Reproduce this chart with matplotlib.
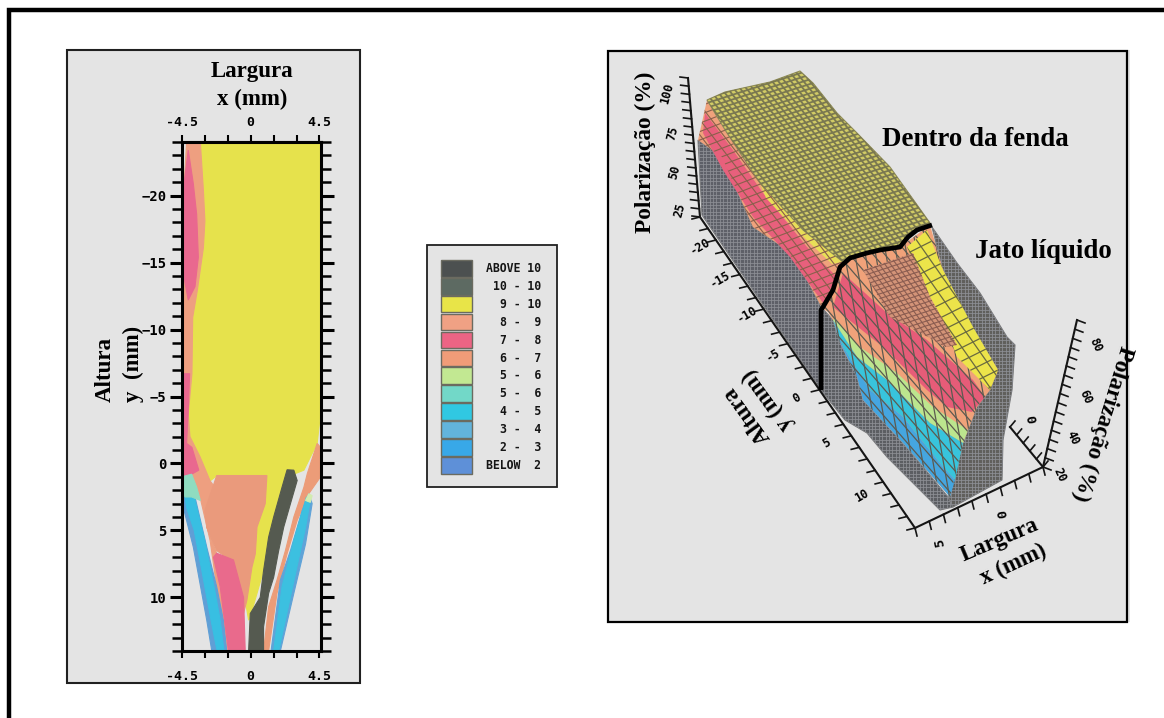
import numpy as np
import matplotlib
matplotlib.use('Agg')
import matplotlib.pyplot as plt
from matplotlib.patches import Polygon, Rectangle
from matplotlib.collections import LineCollection

W, H = 1164, 718
SERIF = 'Liberation Serif'
MONO = 'DejaVu Sans Mono'
GRAY = '#e4e4e4'

# ---- mapa de polarizacion (x mm, y mm) ----
amarillo = [(-3.3,-24),(4.6,-24),(4.6,-6),(4.57,-3.7),(4.35,-1.5),(3.48,0.5),(2.82,0.8),(1.72,3.8),(1.17,5.5),
            (0.84,8),(0.08,11),(-0.14,11.7),(-0.58,8.7),(-2.2,0.9),(-2.66,1.3),(-3.32,-0.5),(-3.98,-2),(-4.09,-3.7),
            (-3.85,-6.7),(-3.8,-10.9),(-3.5,-12.9),(-3.1,-16.1),(-3,-18.1),(-3.1,-20.4)]
salmon_izq = [(-4.2,-24),(-3.3,-24),(-3.1,-20.4),(-3,-18.1),(-3.1,-16.1),(-3.5,-12.9),(-3.8,-10.9),(-3.85,-6.7),
              (-4.09,-3.7),(-3.98,-2),(-3.32,-0.5),(-2.66,1.3),(-2.2,2),(-2.88,4.75),(-2.23,6.7),(-2.0,9.2),(-1.46,14),
              (-1.6,14),(-2.23,9.2),(-2.66,5.75),(-3.32,2.5),(-3.87,0.8),(-4.53,1),(-4.55,-17),(-4.35,-21)]
rosa_sup = [(-4.09,-23.4),(-3.76,-20.9),(-3.54,-18.6),(-3.43,-15.4),(-3.65,-13.2),(-4.09,-12.2),(-4.42,-14.2),
            (-4.53,-16.6),(-4.42,-20.4)]
rosa_med = [(-4.53,-6.7),(-4,-6.7),(-4.1,-3.7),(-4.2,-1.5),(-3.85,-1.2),(-3.4,0.5),(-3.87,0.8),(-4.53,1)]
rosa_inf = [(-2.23,6.7),(-1.13,7.2),(-0.47,10),(-0.36,14),(-1.46,14),(-2,9.2),(-2.44,7)]
salmon_cen = [(-2.23,0.9),(1.06,0.9),(0.95,3),(0.41,4.75),(0.3,6.74),(0.08,7.74),(-0.25,10.2),(-0.47,11.2),
              (-0.91,9.2),(-1.35,7.2),(-2.23,6.5),(-2.88,4.75),(-3,3.5),(-2.55,2)]
oscuro = [(2.38,0.47),(2.82,0.5),(3.04,1.27),(2.6,3),(2.16,4.75),(1.83,6.5),(1.5,8.5),(1.17,9.7),(0.84,12.2),
          (0.84,14),(-0.14,14),(-0.03,11.2),(0.62,10),(0.84,8),(1.17,5.5),(1.5,4),(2.05,1.77)]
salmon_der = [(4.57,-1.2),(4.57,1),(3.8,2.26),(3.04,4.25),(2.38,6.74),(1.72,9.7),(1.17,14),(0.84,14),(1.17,10.7),
              (1.72,8.7),(2.27,6.5),(2.82,4),(3.48,1.77),(3.7,0.77),(4.35,-1.5)]
azul_der = [(1.33,14),(1.94,14),(2.82,9.7),(3.59,6),(4.02,3),(3.8,2.26),(3.37,3.5),(2.6,6.5),(1.94,8.7)]
cian_der = [(1.5,14),(1.83,14),(3.59,4.75),(3.9,2.76),(3.65,2.5),(2.82,5.75),(2.05,9.2)]
verde_der = [(3.59,2.76),(3.8,2.26),(4.02,2.4),(3.9,2.9)]
azul_izq = [(-4.53,2),(-4.42,3.26),(-3.76,6.24),(-2.88,11.7),(-2.55,14),(-1.57,14),(-1.79,11.7),(-2.23,9.2),
            (-2.88,6.24),(-3.65,2.5)]
cian_izq = [(-4.3,2.5),(-3.7,2.5),(-3,5.8),(-2.4,9.2),(-2,11.7),(-1.75,14),(-2.2,14),(-2.6,11.7),(-3.2,8),(-3.7,5),(-4.2,3.3)]
verde_izq = [(-4.53,1),(-3.87,0.8),(-3.54,1.77),(-3.3,2.76),(-3.87,2.5),(-4.3,2.5),(-4.53,2)]

mapa = [(amarillo,'#e6e24c'),(salmon_izq,'#ee9f80'),(rosa_sup,'#e9688f'),(rosa_med,'#e9688f'),(azul_izq,'#5f9fd6'),
        (cian_izq,'#38bfe2'),(verde_izq,'#8fdcc0'),(salmon_cen,'#ea9a7c'),(rosa_inf,'#e96a8c'),(salmon_der,'#ec9c78'),
        (azul_der,'#5fa3d8'),(cian_der,'#3cc0e0'),(verde_der,'#d2ecb0'),(oscuro,'#555a50')]

xticks_mapa = [-4.5,-3,-1.5,0,1.5,3,4.5]
xlabels_mapa = ['-4.5','','','0','','','4.5']
yticks_mapa = [-20,-15,-10,-5,0,5,10]

# ---- leyenda ----
ley_colores = ['#4c5050','#5d6a62','#e8e448','#f0a184','#ec6484','#f09c78','#c2e892','#72d8c8','#30c8e2','#62b4dc','#38a8e8','#5e90d8']
ley_textos = ['ABOVE 10','10 - 10','9 - 10','8 -  9','7 -  8','6 -  7','5 -  6','5 -  6','4 -  5','3 -  4','2 -  3','BELOW  2']

# ---- superficie 3D, contornos en pixeles de la imagen ----
meseta = [(707,100),(725,92),(770,82),(800,71),(813,83),(837,113),(857,133),(890,167),(930,223),(910,232),(900,247),
          (880,250),(850,258),(843,262),(803,230),(760,183),(727,133)]
flanco = [(707,100),(727,133),(760,183),(803,230),(843,262),(833,290),(822,308),(807,280),(787,250),(753,227),(722,157),(698,140)]
flanco_rosa = [(705,113),(733,150),(763,193),(807,247),(837,277),(823,303),(790,257),(753,217),(723,170),(703,133)]
flanco_amar = [(760,183),(775,200),(803,230),(843,262),(832,264),(792,226),(766,198)]
pared_izq = [(698,140),(722,157),(753,227),(787,250),(807,280),(822,308),(821,390),(702,215)]
pared_inf = [(822,308),(833,320),(840,343),(857,377),(863,400),(903,443),(948,497),(953,507),(940,510),(887,457),(867,433),(845,420),(821,390)]
pared_der = [(932,227),(957,263),(980,293),(1007,337),(1015,345),(1012,390),(1003,440),(1002,480),(953,507),(948,497),(963,443),
             (977,407),(990,390),(998,370),(973,330),(943,270)]
chorro = [(843,262),(880,250),(900,247),(930,225),(943,270),(973,330),(998,370),(990,390),(977,407),(963,443),(950,497),
          (903,443),(863,400),(857,377),(840,343),(833,320),(828,312),(822,308),(833,290)]
b_e0 = [(833,320),(840,343),(857,377),(863,400),(903,443),(950,497)]
b_1 = [(843,347),(870,390),(903,417),(943,467),(955,480)]
b_2 = [(833,320),(857,357),(887,380),(930,423),(963,443)]
b_3 = [(835,318),(860,347),(897,373),(933,407),(968,430)]
b_4 = [(833,307),(883,347),(927,390),(947,407),(972,412)]
b_5 = [(843,273),(887,313),(927,340),(973,380),(985,397)]
parche = [(863,270),(913,253),(930,297),(957,345),(945,347),(930,338),(890,317)]
franja_amar = [(907,247),(927,230),(943,270),(973,327),(998,370),(990,390),(957,357),(943,320),(930,297)]

curva_x = [932,917,908,900,880,867,850,840,833,823,821,821]
curva_y = [225,230,237,247,250,253,258,267,290,307,310,390]

ticks_z_izq = [('100',667,93),('75',673,133),('50',675,172),('25',680,210)]
ticks_y = [('-20',700,247),('-15',720,280),('-10',747,315),('-5',773,355),('0',797,398),('5',827,443),('10',862,495)]
ticks_x = [('5',940,543),('0',1003,514)]
ticks_z_der = [('20',1060,475),('40',1073,438),('60',1085,397),('80',1095,345)]


def ejes_px(fig, x0, y0, x1, y1, **kw):
    # ejes ubicados con pixeles de la imagen (y hacia abajo)
    return fig.add_axes([x0/W, 1-y1/H, (x1-x0)/W, (y1-y0)/H], **kw)


def malla(ax, contorno, u, v, color, lw, z):
    # dos familias de lineas recortadas al contorno de la superficie
    pts = np.array(contorno, float)
    c = pts.mean(axis=0)
    u, v = np.array(u, float), np.array(v, float)
    n = int(np.ptp(pts, axis=0).max() / min(abs(u).max(), abs(v).max())) * 2 + 4
    seg = []
    for i in range(-n, n+1):
        seg.append([c+u*i-v*n, c+u*i+v*n])
        seg.append([c+v*i-u*n, c+v*i+u*n])
    lc = LineCollection(seg, colors=color, linewidths=lw, zorder=z)
    ax.add_collection(lc)
    lc.set_clip_path(Polygon(contorno, closed=True, transform=ax.transData))


def banda(a, b):
    return list(a) + list(b)[::-1]


fig = plt.figure(figsize=(W/100, H/100), dpi=100, facecolor='white')
fondo = ejes_px(fig, 0, 0, W, H)
fondo.set_xlim(0, W)
fondo.set_ylim(H, 0)
fondo.axis('off')

# marco general
fondo.plot([9,9,W],[H,10,10], color='black', lw=3.2, solid_joinstyle='miter', zorder=1)

# paneles
fondo.add_patch(Rectangle((67,50),293,633, fc=GRAY, ec='#202020', lw=1.5, zorder=1))
fondo.add_patch(Rectangle((427,245),130,242, fc=GRAY, ec='#202020', lw=1.3, zorder=1))
fondo.add_patch(Rectangle((608,50),522,572, fc=GRAY, ec='none', zorder=1))
fondo.add_patch(Rectangle((608,51),519,571, fc='none', ec='black', lw=1.6, zorder=1))

# leyenda
for i, (c, t) in enumerate(zip(ley_colores, ley_textos)):
    fondo.add_patch(Rectangle((441,260+i*17.9),31,16.6, fc=c, ec='#6b6b60', lw=1, zorder=2))
    fondo.text(541,268.5+i*17.9,t,family=MONO,weight='bold',fontsize=8.3,ha='right',va='center',color='#151515',zorder=3)

# textos del mapa
fondo.text(252,72,'Largura',family=SERIF,weight='bold',fontsize=16.5,ha='center',va='center')
fondo.text(252,99,'x (mm)',family=SERIF,weight='bold',fontsize=16.5,ha='center',va='center')
fondo.text(105,369,'Altura',family=SERIF,weight='bold',fontsize=16.5,ha='center',va='center',rotation=90)
fondo.text(133,364,'y  (mm)',family=SERIF,weight='bold',fontsize=16.5,ha='center',va='center',rotation=90)

# mapa de polarizacion
ax = ejes_px(fig, 182, 142, 321, 651, facecolor='none')
for pts, c in mapa:
    ax.add_patch(Polygon(pts, closed=True, fc=c, ec=c, lw=0.8))
ax.set_xlim(-4.5, 4.6)
ax.set_ylim(14, -24)
ax.set_xticks(xticks_mapa)
ax.set_xticklabels(xlabels_mapa)
ax.set_yticks(yticks_mapa)
ax.set_yticks(np.arange(-24, 15), minor=True)
ax.tick_params(axis='x', which='major', top=False, bottom=True, direction='out', length=5, width=1.5, pad=9, labelsize=9.5)
ax.tick_params(axis='y', which='major', left=True, right=True, direction='out', length=9, width=2.2, pad=2, labelsize=10)
ax.tick_params(axis='y', which='minor', left=True, right=True, direction='out', length=7.5, width=1.8)
sup = ax.secondary_xaxis('top')
sup.set_xticks(xticks_mapa)
sup.set_xticklabels(xlabels_mapa)
sup.tick_params(axis='x', direction='out', length=5, width=1.5, pad=4, labelsize=9.5)
for lab in ax.get_xticklabels() + ax.get_yticklabels() + sup.get_xticklabels():
    lab.set_family(MONO)
    lab.set_weight('bold')
for s in list(ax.spines.values()) + [sup.spines['top']]:
    s.set_linewidth(2.2)

# superficie: paredes
for pts, c in [(pared_izq,'#5e6068'),(pared_inf,'#5c5e62'),(pared_der,'#605f5c')]:
    fondo.add_patch(Polygon(pts, closed=True, fc=c, ec='#77787a', lw=0.8, zorder=3))
    malla(fondo, pts, (3.4,0), (0,3.4), '#8e9096', 0.55, 3.2)

# superficie: flanco y meseta
fondo.add_patch(Polygon(flanco, closed=True, fc='#efa27c', ec='none', zorder=4))
fondo.add_patch(Polygon(flanco_rosa, closed=True, fc='#e8607c', ec='none', zorder=4))
fondo.add_patch(Polygon(flanco_amar, closed=True, fc='#e8df58', ec='none', zorder=4))
malla(fondo, flanco, (9,-3.5), (5,6.5), '#8a5f4c', 0.8, 4.2)
fondo.add_patch(Polygon(meseta, closed=True, fc='#d2cc66', ec='#8f8c58', lw=0.8, zorder=5))
malla(fondo, meseta, (5,-1.6), (3,3.7), '#7a7850', 1.3, 5.2)

# superficie: chorro
fondo.add_patch(Polygon(chorro, closed=True, fc='#f0a27a', ec='none', zorder=6))
for a, b, c in [(b_4,b_5,'#e65c78'),(b_3,b_2,'#bce58e'),(b_2,b_1,'#38c4dc'),(b_1,b_e0,'#45a6e0')]:
    fondo.add_patch(Polygon(banda(a,b), closed=True, fc=c, ec='none', zorder=6))
malla(fondo, chorro, (13,15), (3,17), '#5c5a50', 0.9, 6.2)
fondo.add_patch(Polygon(franja_amar, closed=True, fc='#ece44a', ec='none', zorder=6.4))
malla(fondo, franja_amar, (11,-5.5), (7,10), '#6a6a40', 0.9, 6.5)
fondo.add_patch(Polygon(parche, closed=True, fc='#d49478', ec='none', zorder=6.4))
malla(fondo, parche, (4.6,-1.5), (2.8,3.8), '#8a5c50', 0.8, 6.5)

# ejes de la superficie
ejes = [((688,78),(700,217),17,(-8,-1)),((700,217),(915,528),27,(-8,2)),((915,528),(1043,467),9,(2,8)),
        ((1010,427),(1043,467),5,(5,-6)),((1043,467),(1077,320),16,(8,3))]
for p0, p1, n, d in ejes:
    fondo.plot([p0[0],p1[0]],[p0[1],p1[1]], color='#151515', lw=1.5, zorder=7)
    for f in np.linspace(0,1,n+1):
        px = p0[0]+(p1[0]-p0[0])*f
        py = p0[1]+(p1[1]-p0[1])*f
        fondo.plot([px,px+d[0]],[py,py+d[1]], color='#151515', lw=1.2, zorder=7)
for t, px, py in ticks_z_izq:
    fondo.text(px,py,t,family=MONO,weight='bold',fontsize=8.5,rotation=75,ha='center',va='center',zorder=8)
for t, px, py in ticks_y:
    fondo.text(px,py,t,family=MONO,weight='bold',fontsize=8.5,rotation=30,ha='center',va='center',zorder=8)
for t, px, py in ticks_x:
    fondo.text(px,py,t,family=MONO,weight='bold',fontsize=9.5,rotation=100,ha='center',va='center',zorder=8)
fondo.text(1033,419,'0',family=MONO,weight='bold',fontsize=9.5,rotation=100,ha='center',va='center',zorder=8)
for t, px, py in ticks_z_der:
    fondo.text(px,py,t,family=MONO,weight='bold',fontsize=8.5,rotation=-65,ha='center',va='center',zorder=8)

# linea entre fenda y jato
fondo.plot(curva_x, curva_y, color='black', lw=3.4, solid_capstyle='butt', zorder=9)

# textos de la superficie
fondo.text(645,152,'Polarização (%)',family=SERIF,weight='bold',fontsize=16.8,rotation=90,ha='center',va='center',zorder=9)
fondo.text(975,139,'Dentro da fenda',family=SERIF,weight='bold',fontsize=19.4,ha='center',va='center',zorder=9)
fondo.text(1043,252,'Jato líquido',family=SERIF,weight='bold',fontsize=19.4,ha='center',va='center',zorder=9)
fondo.text(747,415,'Altura',family=SERIF,weight='bold',fontsize=16.5,rotation=126,ha='center',va='center',zorder=9)
fondo.text(768,400,'y (mm)',family=SERIF,weight='bold',fontsize=16.5,rotation=126,ha='center',va='center',zorder=9)
fondo.text(1000,540,'Largura',family=SERIF,weight='bold',fontsize=16.5,rotation=23,ha='center',va='center',zorder=9)
fondo.text(1013,565,'x (mm)',family=SERIF,weight='bold',fontsize=16.5,rotation=25,ha='center',va='center',zorder=9)
fondo.text(1103,423,'Polarização (%)',family=SERIF,weight='bold',fontsize=16.8,rotation=-107,ha='center',va='center',zorder=9)

fig.savefig('out.png', dpi=100)
